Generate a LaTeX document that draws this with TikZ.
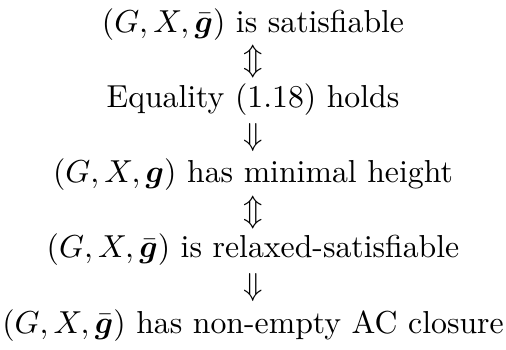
\documentclass[tikz,border=0pt]{standalone}
\usepackage{amsmath,bm}
\begin{document}
\begin{tikzpicture}[x=1pt,y=1pt,
  row/.style={anchor=base,inner sep=0pt}]
\useasboundingbox (-79.65,0) rectangle (79.65,-109.9);
\node[row] (l1) at (0,-10.1) {$(G,X,\bar{\bm g})$ is satisfiable};
\node[row] (a1) at (0,-21.95) {$\Updownarrow$};
\node[row] (l2) at (0,-33.8) {Equality (1.18) holds};
\node[row] (a2) at (0,-45.65) {$\Downarrow$};
\node[row] (l3) at (0,-57.5) {$(G,X,\bm g)$ has minimal height};
\node[row] (a3) at (0,-69.35) {$\Updownarrow$};
\node[row] (l4) at (0,-81.2) {$(G,X,\bar{\bm g})$ is relaxed-satisfiable};
\node[row] (a4) at (0,-93.05) {$\Downarrow$};
\node[row] (l5) at (0,-104.9) {$(G,X,\bar{\bm g})$ has non-empty AC closure};
\end{tikzpicture}
\end{document}
